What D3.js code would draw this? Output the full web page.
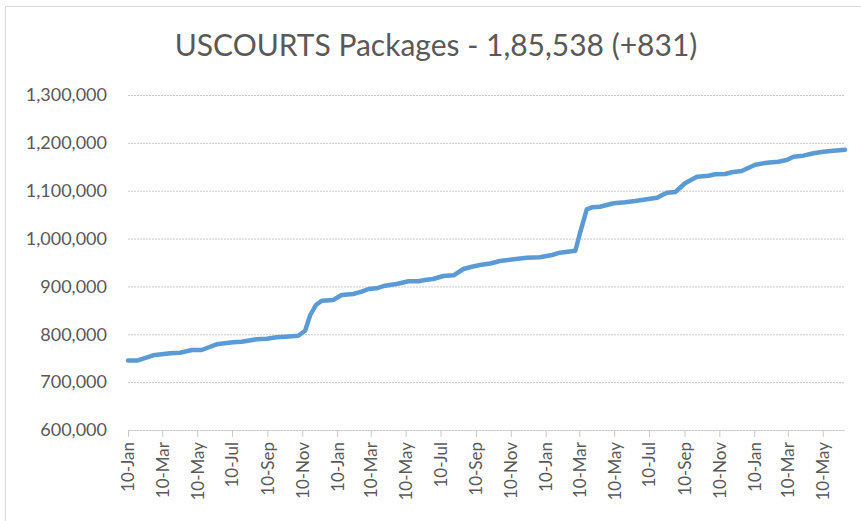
<!DOCTYPE html>
<html>
<head>
<meta charset="utf-8">
<script src="https://cdn.jsdelivr.net/npm/d3@7"></script>
<style>
  body { margin: 0; background: #fff; }
  svg { display: block; font-family: Lato, "Open Sans", sans-serif; }
</style>
</head>
<body>
<div id="chart"></div>
<script>
// data
var titleText = "USCOURTS Packages - 1,85,538 (+831)";

var dates = [
  "2020-01-10", "2020-01-26", "2020-02-23", "2020-03-24", "2020-04-10", "2020-05-01",
  "2020-05-18", "2020-06-13", "2020-07-12", "2020-07-27", "2020-08-22", "2020-09-09",
  "2020-09-26", "2020-10-11", "2020-11-03", "2020-11-15", "2020-11-24", "2020-12-04",
  "2020-12-14", "2021-01-03", "2021-01-18", "2021-02-07", "2021-02-22", "2021-03-06",
  "2021-03-20", "2021-04-04", "2021-04-24", "2021-05-15", "2021-06-01", "2021-06-16",
  "2021-06-27", "2021-07-15", "2021-08-02", "2021-08-19", "2021-09-03", "2021-09-17",
  "2021-10-05", "2021-10-22", "2021-11-15", "2021-12-08", "2021-12-31", "2022-01-21",
  "2022-02-04", "2022-03-03", "2022-03-11", "2022-03-23", "2022-04-01", "2022-04-15",
  "2022-05-09", "2022-05-29", "2022-06-16", "2022-07-06", "2022-07-24", "2022-08-10",
  "2022-08-25", "2022-09-11", "2022-10-02", "2022-10-22", "2022-11-03", "2022-11-20",
  "2022-12-02", "2022-12-19", "2023-01-12", "2023-02-01", "2023-02-21", "2023-03-08",
  "2023-03-20", "2023-04-06", "2023-04-24", "2023-05-11", "2023-05-29", "2023-06-18"
];

var packages = [
  745000, 745000, 756100, 760300, 761500, 767200,
  767200, 779100, 783200, 784500, 789500, 790800,
  793700, 795000, 797000, 807500, 840300, 861200,
  870200, 871600, 882100, 884200, 889000, 894600,
  896100, 901500, 905100, 910700, 910700, 914100,
  915500, 921800, 923300, 936400, 941200, 944800,
  947900, 953100, 956700, 960000, 960900, 965700,
  970500, 974600, 1011000, 1061200, 1065300, 1066600,
  1073700, 1075800, 1078500, 1082100, 1085400, 1095800,
  1097300, 1115500, 1129300, 1131400, 1134300, 1134900,
  1138500, 1141200, 1154400, 1158500, 1160600, 1164200,
  1171100, 1173200, 1178200, 1181500, 1183600, 1185538
];

var xTickDates = [
  "2020-01-10", "2020-03-10", "2020-05-10", "2020-07-10", "2020-09-10", "2020-11-10",
  "2021-01-10", "2021-03-10", "2021-05-10", "2021-07-10", "2021-09-10", "2021-11-10",
  "2022-01-10", "2022-03-10", "2022-05-10", "2022-07-10", "2022-09-10", "2022-11-10",
  "2023-01-10", "2023-03-10", "2023-05-10"
];

var yTicks = [600000, 700000, 800000, 900000, 1000000, 1100000, 1200000, 1300000];
var xStart = "2020-01-10", xEnd = "2023-06-18";

var parseDate = d3.timeParse("%Y-%m-%d");
var data = dates.map(function (d, i) {
  return { date: parseDate(d), value: packages[i] };
});

var W = 861, H = 521;
var margin = { top: 95, right: 16, bottom: 91, left: 128 },
  width = W - margin.left - margin.right,
  height = H - margin.top - margin.bottom;

var svg = d3.select("#chart").append("svg")
  .attr("width", W)
  .attr("height", H);

// chart frame
svg.append("rect")
  .attr("x", 5.5).attr("y", 6.5)
  .attr("width", 900).attr("height", 600)
  .attr("fill", "#fff")
  .attr("stroke", "#d9d9d9");

svg.append("text")
  .attr("x", 436)
  .attr("y", 56)
  .attr("text-anchor", "middle")
  .style("font-size", "30px")
  .style("fill", "#595959")
  .text(titleText);

var g = svg.append("g")
  .attr("transform", "translate(" + margin.left + "," + margin.top + ")");

var x = d3.scaleTime()
  .domain([parseDate(xStart), parseDate(xEnd)])
  .range([0, width]);
var y = d3.scaleLinear()
  .domain([600000, 1300000])
  .range([height, 0]);

// Y axis + gridlines
var yAxis = d3.axisLeft(y)
  .tickValues(yTicks)
  .tickFormat(d3.format(","))
  .tickSize(-width)
  .tickPadding(21);

var yg = g.append("g").attr("class", "y axis").call(yAxis);
yg.select(".domain").remove();
yg.selectAll(".tick line")
  .attr("stroke", "#c9c9c9")
  .attr("stroke-dasharray", "2,1");
yg.selectAll(".tick text")
  .style("font-size", "18px")
  .style("fill", "#595959")
  .style("font-family", "Lato, sans-serif");

// X axis
var xAxis = d3.axisBottom(x)
  .tickValues(xTickDates.map(parseDate))
  .tickFormat(d3.timeFormat("%d-%b"))
  .tickSizeInner(7)
  .tickSizeOuter(0);

var xg = g.append("g")
  .attr("class", "x axis")
  .attr("transform", "translate(0," + height + ")")
  .call(xAxis);
xg.select(".domain").attr("stroke", "#c9c9c9").attr("stroke-dasharray", "2,1");
xg.selectAll(".tick line").attr("stroke", "#c9c9c9");
xg.selectAll(".tick text")
  .attr("transform", "rotate(-90)")
  .attr("text-anchor", "end")
  .attr("x", -12)
  .attr("y", 0)
  .attr("dy", "0.35em")
  .style("font-size", "17px")
  .style("fill", "#595959")
  .style("font-family", "Lato, sans-serif");

// Line
var valueline = d3.line()
  .x(function (d) { return x(d.date); })
  .y(function (d) { return y(d.value); });

g.append("path")
  .datum(data)
  .attr("class", "line")
  .attr("d", valueline)
  .attr("fill", "none")
  .style("stroke", "#5b9bd5")
  .style("stroke-width", "4.5px")
  .style("stroke-linejoin", "round")
  .style("stroke-linecap", "round");
</script>
</body>
</html>
